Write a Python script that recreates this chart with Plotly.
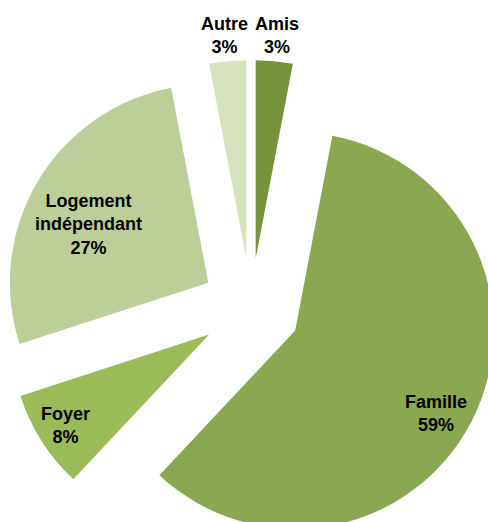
import plotly.graph_objects as go

labels = ["Amis", "Famille", "Foyer", "Logement<br>indépendant", "Autre"]
values = [3, 59, 8, 27, 3]
colors = ["#77933C", "#8BA752", "#9BBB59", "#BDCF98", "#D7E3BF"]

# label anchor points in paper coords (Excel-style placement)
LABEL_XY = [(0.5524, 1.050), (0.873, 0.288), (0.127, 0.264),
            (0.1714, 0.669), (0.4466, 1.050)]

FONT = dict(family="Liberation Sans, Arial, sans-serif", size=18,
            color="black", weight="bold")

fig = go.Figure(go.Pie(
    labels=labels,
    values=values,
    sort=False,
    direction="clockwise",
    rotation=0,
    pull=0.25,
    marker=dict(colors=colors, line=dict(width=0)),
    textinfo="none",
    showlegend=False,
    hoverinfo="skip",
))

total = sum(values)
for name, val, (x, y) in zip(labels, values, LABEL_XY):
    fig.add_annotation(text=f"{name}<br>{round(100 * val / total)}%",
                       x=x, y=y, xref="paper", yref="paper",
                       xanchor="center", yanchor="middle",
                       showarrow=False, font=FONT, align="center")

fig.update_layout(
    width=499,
    height=556,
    autosize=False,
    margin=dict(l=3, r=0, t=60, b=0),
    paper_bgcolor="white",
    plot_bgcolor="white",
)

fig.write_html(
    "out.html",
    config={"displayModeBar": False},
    post_script="document.body.style.margin='0';document.body.style.overflow='hidden';",
)
